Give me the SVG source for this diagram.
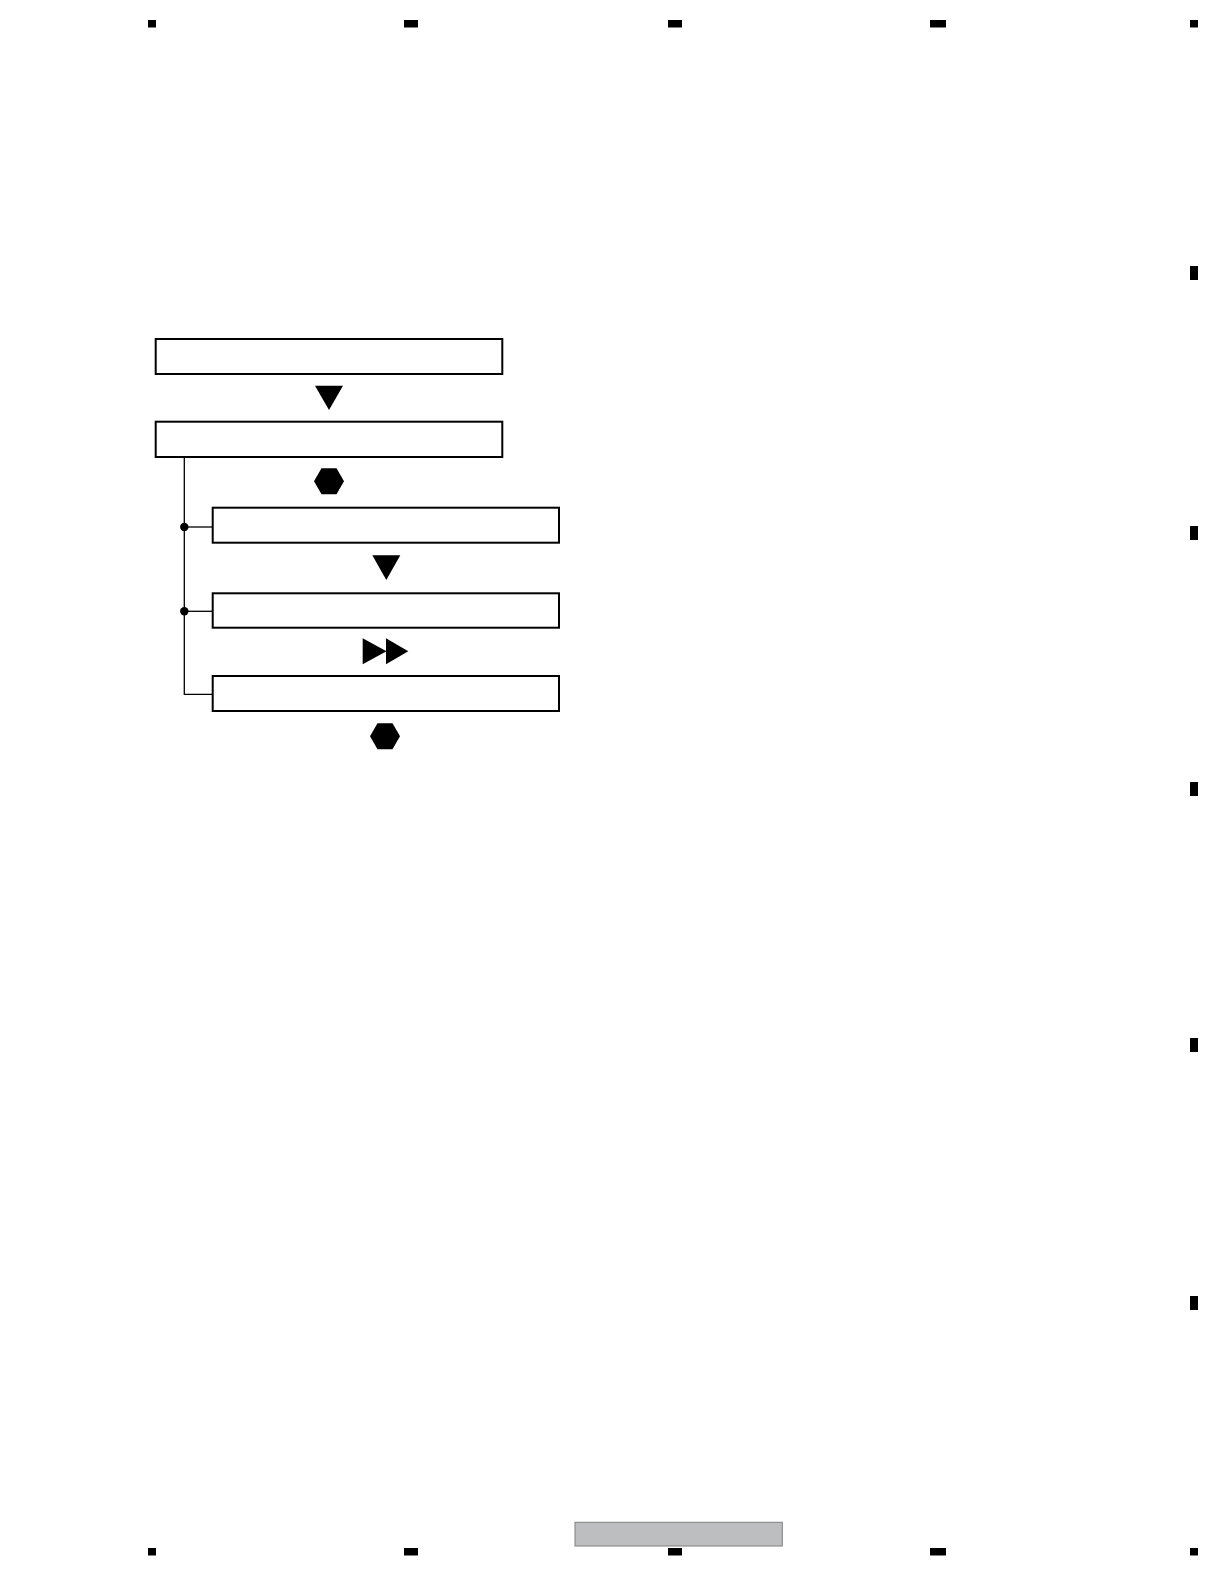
<svg xmlns="http://www.w3.org/2000/svg" width="1224" height="1584" viewBox="0 0 1224 1584">
<style>
.box{fill:#fff;stroke:#000;stroke-width:2}
.ln{fill:none;stroke:#000;stroke-width:1.3}
.mk{fill:#000}
</style>
<rect width="1224" height="1584" fill="#fff"/>
<g id="marks">
<rect class="mk" x="148" y="20" width="8" height="7.5"/>
<rect class="mk" x="404" y="20" width="14" height="7.5"/>
<rect class="mk" x="668" y="20" width="14" height="7.5"/>
<rect class="mk" x="930" y="20" width="16" height="7.5"/>
<rect class="mk" x="1190" y="20" width="8" height="7.5"/>
<rect class="mk" x="1190" y="266" width="8" height="14"/>
<rect class="mk" x="1190" y="526" width="8" height="14"/>
<rect class="mk" x="1190" y="782" width="8" height="14"/>
<rect class="mk" x="1190" y="1038" width="8" height="14"/>
<rect class="mk" x="1190" y="1296" width="8" height="14"/>
<rect class="mk" x="148" y="1548" width="8" height="7.5"/>
<rect class="mk" x="404" y="1548" width="14" height="7.5"/>
<rect class="mk" x="668" y="1548" width="14" height="7.5"/>
<rect class="mk" x="930" y="1548" width="16" height="7.5"/>
<rect class="mk" x="1190" y="1548" width="8" height="7.5"/>
</g>
<g id="connectors">
<polyline class="ln" points="184.3,457 184.3,694.3 212.7,694.3"/>
<line class="ln" x1="184.3" y1="527" x2="212.7" y2="527"/>
<line class="ln" x1="184.3" y1="611.3" x2="212.7" y2="611.3"/>
<circle cx="184.3" cy="527" r="4.2" fill="#000"/>
<circle cx="184.3" cy="611.3" r="4.2" fill="#000"/>
</g>
<g id="node1"><rect class="box" x="155.7" y="339" width="346.6" height="35"/></g>
<g id="arrow1"><polygon class="mk" points="315,385.7 343,385.7 329,410"/></g>
<g id="node2"><rect class="box" x="155.7" y="421.7" width="346.6" height="35.3"/></g>
<g id="hex1"><polygon class="mk" points="321.5,468.3 336.5,468.3 344,481.3 336.5,494.3 321.5,494.3 314,481.3"/></g>
<g id="node3"><rect class="box" x="212.7" y="507.7" width="346.3" height="35"/></g>
<g id="arrow2"><polygon class="mk" points="372.3,555.3 400.3,555.3 386.3,580"/></g>
<g id="node4"><rect class="box" x="212.7" y="593.3" width="346.3" height="34.4"/></g>
<g id="ff"><polygon class="mk" points="362.7,638.3 386.5,651.3 362.7,664.3"/><polygon class="mk" points="386,638.3 408.3,651.3 386,664.3"/></g>
<g id="node5"><rect class="box" x="212.7" y="676" width="346.3" height="35"/></g>
<g id="hex2"><polygon class="mk" points="377.5,723.3 392.5,723.3 400,736.3 392.5,749.3 377.5,749.3 370,736.3"/></g>
<g id="footer"><rect x="575" y="1522.3" width="207.3" height="23.7" fill="#bdbebf" stroke="#7f7f7f" stroke-width="1"/></g>
</svg>
